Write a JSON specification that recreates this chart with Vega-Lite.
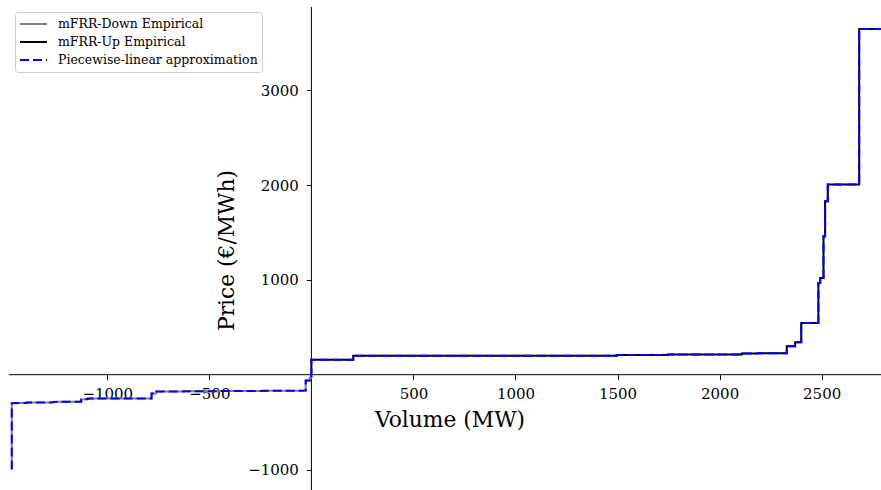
{
  "$schema": "https://vega.github.io/schema/vega-lite/v6.json",
  "width": 881,
  "height": 490,
  "autosize": {"type": "none"},
  "padding": 0,
  "config": {
    "font": "DejaVu Serif",
    "view": {"stroke": null},
    "axis": {"grid": false, "domain": false, "labelColor": "black", "tickColor": "black", "tickWidth": 1, "tickSize": 5, "labelFontSize": 15, "titleFontSize": 21.8, "titleFontWeight": "normal", "titleColor": "black", "labelFlush": false, "labelOverlap": false, "format": "d"}
  },
  "layer": [
    {
      "data": {"values": [{"v": -1482, "v2": 2790.8, "p": 0}]},
      "mark": {"type": "rule", "color": "black", "strokeWidth": 1},
      "encoding": {
        "x": {"field": "v", "type": "quantitative"},
        "x2": {"field": "v2"},
        "y": {"field": "p", "type": "quantitative"}
      }
    },
    {
      "data": {"values": [{"v": 0, "p": -1216, "p2": 3877}]},
      "mark": {"type": "rule", "color": "black", "strokeWidth": 1},
      "encoding": {
        "x": {"field": "v", "type": "quantitative"},
        "y": {"field": "p", "type": "quantitative"},
        "y2": {"field": "p2"}
      }
    },
    {
      "data": {"values": [
        {"s": "mFRR-Down Empirical", "g": "d", "i": 1, "v": -1468, "p": -1000},
        {"s": "mFRR-Down Empirical", "g": "d", "i": 2, "v": -1468, "p": -300},
        {"s": "mFRR-Down Empirical", "g": "d", "i": 3, "v": -1395, "p": -298},
        {"s": "mFRR-Down Empirical", "g": "d", "i": 4, "v": -1395, "p": -294},
        {"s": "mFRR-Down Empirical", "g": "d", "i": 5, "v": -1266, "p": -292},
        {"s": "mFRR-Down Empirical", "g": "d", "i": 6, "v": -1266, "p": -287},
        {"s": "mFRR-Down Empirical", "g": "d", "i": 7, "v": -1128, "p": -285},
        {"s": "mFRR-Down Empirical", "g": "d", "i": 8, "v": -1128, "p": -262},
        {"s": "mFRR-Down Empirical", "g": "d", "i": 9, "v": -1095, "p": -258},
        {"s": "mFRR-Down Empirical", "g": "d", "i": 10, "v": -1095, "p": -250},
        {"s": "mFRR-Down Empirical", "g": "d", "i": 11, "v": -783, "p": -250},
        {"s": "mFRR-Down Empirical", "g": "d", "i": 12, "v": -783, "p": -198},
        {"s": "mFRR-Down Empirical", "g": "d", "i": 13, "v": -760, "p": -198},
        {"s": "mFRR-Down Empirical", "g": "d", "i": 14, "v": -760, "p": -178},
        {"s": "mFRR-Down Empirical", "g": "d", "i": 15, "v": -500, "p": -174},
        {"s": "mFRR-Down Empirical", "g": "d", "i": 16, "v": -28, "p": -168},
        {"s": "mFRR-Down Empirical", "g": "d", "i": 17, "v": -28, "p": -62},
        {"s": "mFRR-Down Empirical", "g": "d", "i": 18, "v": -8, "p": -62},
        {"s": "mFRR-Down Empirical", "g": "d", "i": 19, "v": -8, "p": -30},
        {"s": "mFRR-Down Empirical", "g": "d", "i": 20, "v": 0, "p": -30},
        {"s": "mFRR-Down Empirical", "g": "d", "i": 21, "v": 0, "p": 0},
        {"s": "mFRR-Up Empirical", "g": "u", "i": 1, "v": 0, "p": 0},
        {"s": "mFRR-Up Empirical", "g": "u", "i": 2, "v": 0, "p": 158},
        {"s": "mFRR-Up Empirical", "g": "u", "i": 3, "v": 205, "p": 158},
        {"s": "mFRR-Up Empirical", "g": "u", "i": 4, "v": 205, "p": 200},
        {"s": "mFRR-Up Empirical", "g": "u", "i": 5, "v": 1496, "p": 200},
        {"s": "mFRR-Up Empirical", "g": "u", "i": 6, "v": 1496, "p": 208},
        {"s": "mFRR-Up Empirical", "g": "u", "i": 7, "v": 1748, "p": 208},
        {"s": "mFRR-Up Empirical", "g": "u", "i": 8, "v": 1748, "p": 214},
        {"s": "mFRR-Up Empirical", "g": "u", "i": 9, "v": 2109, "p": 214},
        {"s": "mFRR-Up Empirical", "g": "u", "i": 10, "v": 2109, "p": 224},
        {"s": "mFRR-Up Empirical", "g": "u", "i": 11, "v": 2329, "p": 226},
        {"s": "mFRR-Up Empirical", "g": "u", "i": 12, "v": 2329, "p": 299},
        {"s": "mFRR-Up Empirical", "g": "u", "i": 13, "v": 2370, "p": 299},
        {"s": "mFRR-Up Empirical", "g": "u", "i": 14, "v": 2370, "p": 341},
        {"s": "mFRR-Up Empirical", "g": "u", "i": 15, "v": 2400, "p": 341},
        {"s": "mFRR-Up Empirical", "g": "u", "i": 16, "v": 2400, "p": 545},
        {"s": "mFRR-Up Empirical", "g": "u", "i": 17, "v": 2484, "p": 545},
        {"s": "mFRR-Up Empirical", "g": "u", "i": 18, "v": 2484, "p": 967},
        {"s": "mFRR-Up Empirical", "g": "u", "i": 19, "v": 2493, "p": 967},
        {"s": "mFRR-Up Empirical", "g": "u", "i": 20, "v": 2493, "p": 1020},
        {"s": "mFRR-Up Empirical", "g": "u", "i": 21, "v": 2509, "p": 1020},
        {"s": "mFRR-Up Empirical", "g": "u", "i": 22, "v": 2509, "p": 1459},
        {"s": "mFRR-Up Empirical", "g": "u", "i": 23, "v": 2517, "p": 1459},
        {"s": "mFRR-Up Empirical", "g": "u", "i": 24, "v": 2517, "p": 1828},
        {"s": "mFRR-Up Empirical", "g": "u", "i": 25, "v": 2530, "p": 1828},
        {"s": "mFRR-Up Empirical", "g": "u", "i": 26, "v": 2530, "p": 2005},
        {"s": "mFRR-Up Empirical", "g": "u", "i": 27, "v": 2684, "p": 2005},
        {"s": "mFRR-Up Empirical", "g": "u", "i": 28, "v": 2684, "p": 3645},
        {"s": "mFRR-Up Empirical", "g": "u", "i": 29, "v": 2791, "p": 3645}
      ]},
      "mark": {"type": "line", "strokeWidth": 2, "clip": true},
      "encoding": {
        "x": {"field": "v", "type": "quantitative", "scale": {"domain": [-1525.7, 2790.8], "nice": false, "zero": false},
          "axis": {"orient": "bottom", "offset": -115.3, "values": [-1000, -500, 500, 1000, 1500, 2000, 2500], "labelPadding": 7, "title": "Volume (MW)", "titleX": 449.5, "titlePadding": 8}},
        "y": {"field": "p", "type": "quantitative", "scale": {"domain": [-1216, 3951], "nice": false, "zero": false},
          "axis": {"orient": "left", "offset": -311.4, "values": [-1000, 1000, 2000, 3000], "labelPadding": 8, "title": "Price (€/MWh)", "titleX": -85.4, "titleY": 250, "titleBaseline": "middle"}},
        "color": {"field": "s", "type": "nominal",
          "scale": {"domain": ["mFRR-Down Empirical", "mFRR-Up Empirical", "Piecewise-linear approximation"], "range": ["#808080", "#000000", "#0000ff"]},
          "legend": {"title": null, "orient": "none", "legendX": 15, "legendY": 12, "symbolType": "stroke", "symbolSize": 729, "symbolStrokeWidth": 2, "labelFontSize": 12.5, "labelLimit": 0, "labelColor": "black", "labelOffset": 10, "clipHeight": 16, "rowPadding": 2, "padding": 4, "fillColor": "rgba(255,255,255,0.85)", "strokeColor": "#cccccc", "cornerRadius": 3}},
        "strokeDash": {"field": "s", "type": "nominal",
          "scale": {"domain": ["mFRR-Down Empirical", "mFRR-Up Empirical", "Piecewise-linear approximation"], "range": [[1, 0], [1, 0], [9, 4]]},
          "legend": {"title": null, "orient": "none", "legendX": 15, "legendY": 12, "symbolType": "stroke", "symbolSize": 729, "symbolStrokeWidth": 2, "labelFontSize": 12.5, "labelLimit": 0, "labelColor": "black", "labelOffset": 10, "clipHeight": 16, "rowPadding": 2, "padding": 4, "fillColor": "rgba(255,255,255,0.85)", "strokeColor": "#cccccc", "cornerRadius": 3}},
        "detail": {"field": "g"},
        "order": {"field": "i", "type": "quantitative"}
      }
    },
    {
      "data": {"values": [
        {"s": "Piecewise-linear approximation", "g": "a", "i": 1, "v": -1468, "p": -1000},
        {"s": "Piecewise-linear approximation", "g": "a", "i": 2, "v": -1468, "p": -300},
        {"s": "Piecewise-linear approximation", "g": "a", "i": 3, "v": -1395, "p": -298},
        {"s": "Piecewise-linear approximation", "g": "a", "i": 4, "v": -1395, "p": -294},
        {"s": "Piecewise-linear approximation", "g": "a", "i": 5, "v": -1266, "p": -292},
        {"s": "Piecewise-linear approximation", "g": "a", "i": 6, "v": -1266, "p": -287},
        {"s": "Piecewise-linear approximation", "g": "a", "i": 7, "v": -1128, "p": -285},
        {"s": "Piecewise-linear approximation", "g": "a", "i": 8, "v": -1128, "p": -262},
        {"s": "Piecewise-linear approximation", "g": "a", "i": 9, "v": -1095, "p": -258},
        {"s": "Piecewise-linear approximation", "g": "a", "i": 10, "v": -1095, "p": -250},
        {"s": "Piecewise-linear approximation", "g": "a", "i": 11, "v": -783, "p": -250},
        {"s": "Piecewise-linear approximation", "g": "a", "i": 12, "v": -783, "p": -198},
        {"s": "Piecewise-linear approximation", "g": "a", "i": 13, "v": -760, "p": -198},
        {"s": "Piecewise-linear approximation", "g": "a", "i": 14, "v": -760, "p": -178},
        {"s": "Piecewise-linear approximation", "g": "a", "i": 15, "v": -500, "p": -174},
        {"s": "Piecewise-linear approximation", "g": "a", "i": 16, "v": -28, "p": -168},
        {"s": "Piecewise-linear approximation", "g": "a", "i": 17, "v": -28, "p": -62},
        {"s": "Piecewise-linear approximation", "g": "a", "i": 18, "v": -8, "p": -62},
        {"s": "Piecewise-linear approximation", "g": "a", "i": 19, "v": -8, "p": -30},
        {"s": "Piecewise-linear approximation", "g": "a", "i": 20, "v": 0, "p": -30},
        {"s": "Piecewise-linear approximation", "g": "a", "i": 21, "v": 0, "p": 158},
        {"s": "Piecewise-linear approximation", "g": "a", "i": 22, "v": 205, "p": 158},
        {"s": "Piecewise-linear approximation", "g": "a", "i": 23, "v": 205, "p": 200},
        {"s": "Piecewise-linear approximation", "g": "a", "i": 24, "v": 1496, "p": 200},
        {"s": "Piecewise-linear approximation", "g": "a", "i": 25, "v": 1496, "p": 208},
        {"s": "Piecewise-linear approximation", "g": "a", "i": 26, "v": 1748, "p": 208},
        {"s": "Piecewise-linear approximation", "g": "a", "i": 27, "v": 1748, "p": 214},
        {"s": "Piecewise-linear approximation", "g": "a", "i": 28, "v": 2109, "p": 214},
        {"s": "Piecewise-linear approximation", "g": "a", "i": 29, "v": 2109, "p": 224},
        {"s": "Piecewise-linear approximation", "g": "a", "i": 30, "v": 2329, "p": 226},
        {"s": "Piecewise-linear approximation", "g": "a", "i": 31, "v": 2329, "p": 299},
        {"s": "Piecewise-linear approximation", "g": "a", "i": 32, "v": 2370, "p": 299},
        {"s": "Piecewise-linear approximation", "g": "a", "i": 33, "v": 2370, "p": 341},
        {"s": "Piecewise-linear approximation", "g": "a", "i": 34, "v": 2400, "p": 341},
        {"s": "Piecewise-linear approximation", "g": "a", "i": 35, "v": 2400, "p": 545},
        {"s": "Piecewise-linear approximation", "g": "a", "i": 36, "v": 2484, "p": 545},
        {"s": "Piecewise-linear approximation", "g": "a", "i": 37, "v": 2484, "p": 967},
        {"s": "Piecewise-linear approximation", "g": "a", "i": 38, "v": 2493, "p": 967},
        {"s": "Piecewise-linear approximation", "g": "a", "i": 39, "v": 2493, "p": 1020},
        {"s": "Piecewise-linear approximation", "g": "a", "i": 40, "v": 2509, "p": 1020},
        {"s": "Piecewise-linear approximation", "g": "a", "i": 41, "v": 2509, "p": 1459},
        {"s": "Piecewise-linear approximation", "g": "a", "i": 42, "v": 2517, "p": 1459},
        {"s": "Piecewise-linear approximation", "g": "a", "i": 43, "v": 2517, "p": 1828},
        {"s": "Piecewise-linear approximation", "g": "a", "i": 44, "v": 2530, "p": 1828},
        {"s": "Piecewise-linear approximation", "g": "a", "i": 45, "v": 2530, "p": 2005},
        {"s": "Piecewise-linear approximation", "g": "a", "i": 46, "v": 2684, "p": 2005},
        {"s": "Piecewise-linear approximation", "g": "a", "i": 47, "v": 2684, "p": 3645},
        {"s": "Piecewise-linear approximation", "g": "a", "i": 48, "v": 2791, "p": 3645}
      ]},
      "mark": {"type": "line", "strokeWidth": 2, "clip": true},
      "encoding": {
        "x": {"field": "v", "type": "quantitative"},
        "y": {"field": "p", "type": "quantitative"},
        "color": {"field": "s", "type": "nominal"},
        "strokeDash": {"field": "s", "type": "nominal"},
        "detail": {"field": "g"},
        "order": {"field": "i", "type": "quantitative"}
      }
    }
  ]
}
